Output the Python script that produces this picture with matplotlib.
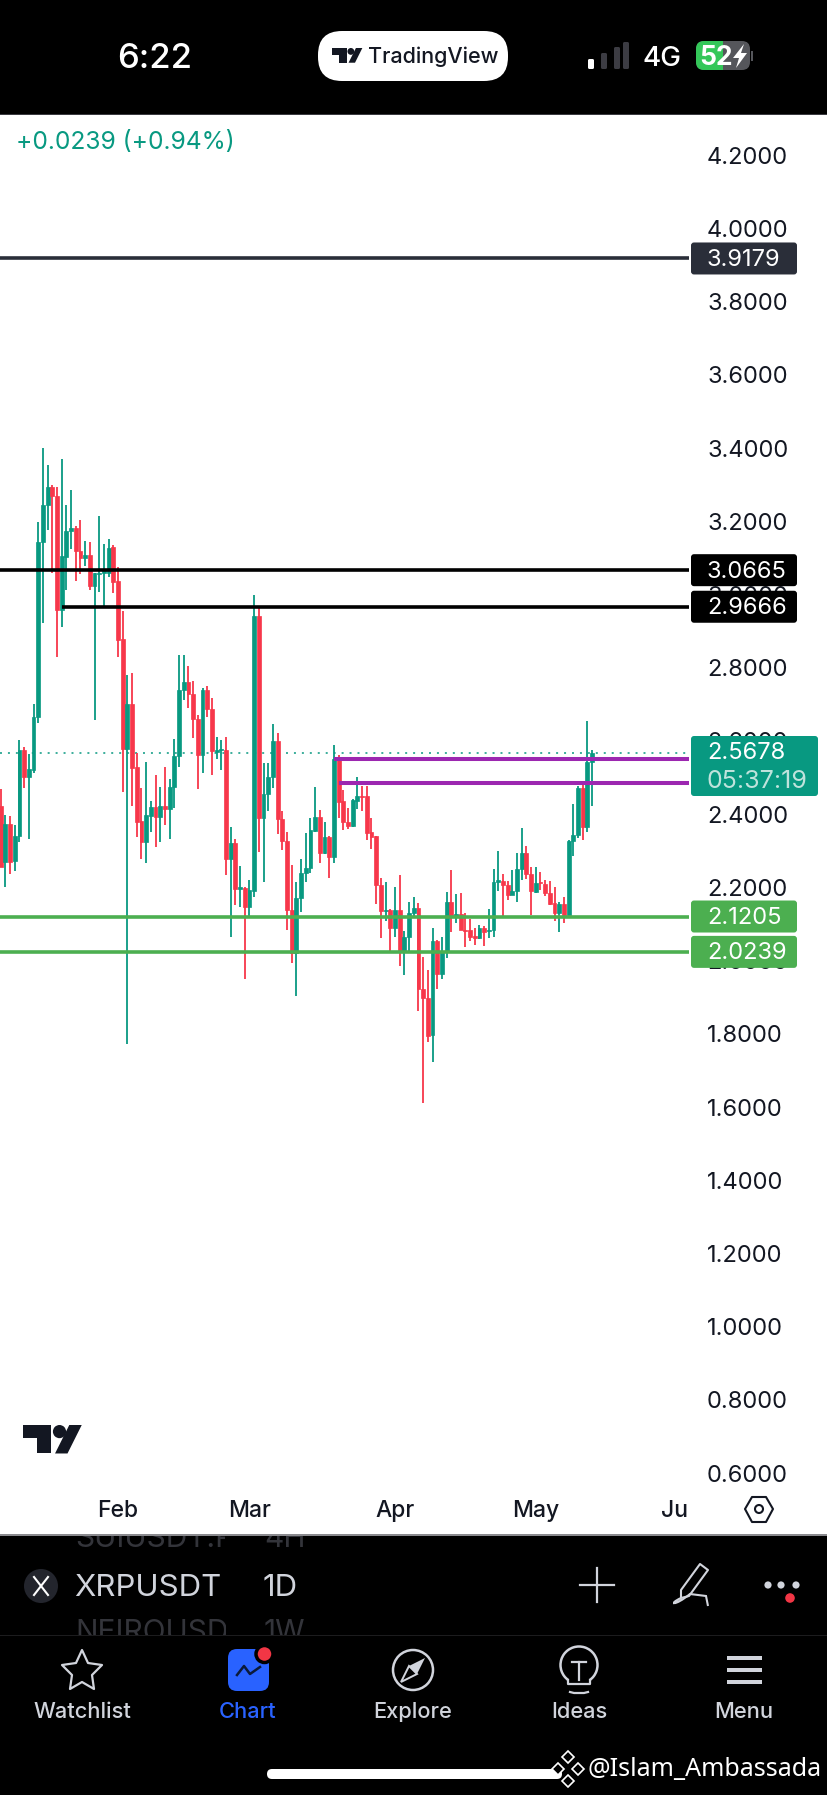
import matplotlib
matplotlib.use("Agg")
import matplotlib.pyplot as plt
from matplotlib.patches import Rectangle, FancyBboxPatch, Circle, Polygon, PathPatch, Arc
from matplotlib.path import Path

W, H = 828, 1795
plt.rcParams["font.family"] = ["Inter", "Noto Sans", "DejaVu Sans"]

# daily XRPUSDT candles
opens = [2.421, 2.270, 2.372, 2.272, 2.340, 2.575, 2.502, 2.521, 2.666, 3.143,
         3.245, 3.293, 3.269, 2.958, 3.103, 3.174, 3.181, 3.119, 3.101, 3.108,
         3.022, 3.055, 3.058, 3.058, 3.129, 3.037, 2.878, 2.578, 2.700, 2.528,
         2.381, 2.325, 2.396, 2.420, 2.393, 2.423, 2.413, 2.473, 2.560, 2.739,
         2.762, 2.727, 2.660, 2.563, 2.739, 2.687, 2.571, 2.574, 2.575, 2.277,
         2.320, 2.197, 2.199, 2.146, 2.191, 2.940, 2.389, 2.454, 2.501, 2.600,
         2.386, 2.327, 2.138, 2.020, 2.170, 2.238, 2.252, 2.355, 2.391, 2.293,
         2.339, 2.284, 2.551, 2.436, 2.380, 2.369, 2.437, 2.451, 2.450, 2.350,
         2.340, 2.207, 2.136, 2.138, 2.088, 2.138, 2.023, 2.065, 2.129, 2.143,
         1.922, 1.899, 1.797, 2.054, 1.963, 2.024, 2.159, 2.118, 2.126, 2.085,
         2.084, 2.067, 2.062, 2.088, 2.081, 2.084, 2.215, 2.217, 2.206, 2.179,
         2.191, 2.250, 2.295, 2.237, 2.188, 2.215, 2.208, 2.186, 2.157, 2.129,
         2.155, 2.125, 2.326, 2.343, 2.471, 2.366, 2.543]
highs = [2.468, 2.399, 2.395, 2.370, 2.603, 2.583, 2.564, 2.700, 3.199, 3.399,
         3.354, 3.299, 3.293, 3.369, 3.245, 3.286, 3.187, 3.204, 3.145, 3.143,
         3.058, 3.215, 3.137, 3.153, 3.134, 3.076, 2.956, 2.780, 2.787, 2.568,
         2.471, 2.542, 2.437, 2.507, 2.473, 2.528, 2.496, 2.605, 2.835, 2.835,
         2.805, 2.765, 2.671, 2.746, 2.750, 2.716, 2.612, 2.603, 2.610, 2.366,
         2.331, 2.258, 2.202, 2.220, 2.999, 2.969, 2.539, 2.541, 2.645, 2.621,
         2.410, 2.350, 2.261, 2.214, 2.278, 2.348, 2.390, 2.475, 2.411, 2.380,
         2.341, 2.589, 2.563, 2.466, 2.418, 2.441, 2.502, 2.477, 2.478, 2.389,
         2.341, 2.227, 2.214, 2.141, 2.200, 2.234, 2.081, 2.161, 2.175, 2.158,
         2.011, 1.974, 2.089, 2.056, 2.064, 2.187, 2.248, 2.181, 2.184, 2.129,
         2.115, 2.090, 2.097, 2.095, 2.140, 2.249, 2.300, 2.236, 2.218, 2.248,
         2.295, 2.363, 2.314, 2.257, 2.255, 2.241, 2.220, 2.217, 2.200, 2.161,
         2.173, 2.329, 2.428, 2.477, 2.484, 2.655, 2.575]
lows = [2.257, 2.202, 2.236, 2.246, 2.325, 2.471, 2.331, 2.513, 2.650, 2.923,
        3.176, 3.060, 2.828, 2.910, 3.012, 3.123, 3.038, 3.055, 3.079, 3.012,
        2.657, 3.008, 2.967, 3.049, 3.003, 2.830, 2.460, 1.772, 2.422, 2.339,
        2.278, 2.266, 2.352, 2.311, 2.324, 2.371, 2.333, 2.417, 2.530, 2.712,
        2.689, 2.607, 2.469, 2.513, 2.666, 2.507, 2.551, 2.521, 2.234, 2.065,
        2.152, 2.147, 1.950, 2.123, 2.175, 2.298, 2.214, 2.409, 2.472, 2.346,
        2.302, 2.084, 1.993, 1.903, 2.134, 2.216, 2.238, 2.352, 2.268, 2.291,
        2.225, 2.266, 2.389, 2.357, 2.360, 2.366, 2.413, 2.409, 2.329, 2.304,
        2.155, 2.061, 2.109, 2.024, 2.065, 1.985, 1.961, 2.020, 2.120, 1.863,
        1.612, 1.777, 1.723, 1.922, 1.949, 2.006, 2.079, 2.104, 2.084, 2.036,
        2.054, 2.043, 2.059, 2.040, 2.061, 2.065, 2.191, 2.118, 2.166, 2.179,
        2.159, 2.220, 2.222, 2.125, 2.186, 2.193, 2.177, 2.152, 2.109, 2.079,
        2.104, 2.120, 2.286, 2.336, 2.329, 2.352, 2.422]
closes = [2.257, 2.372, 2.270, 2.340, 2.575, 2.502, 2.523, 2.666, 3.143, 3.245,
          3.293, 3.269, 2.958, 3.105, 3.174, 3.181, 3.119, 3.099, 3.108, 3.022,
          3.058, 3.060, 3.067, 3.128, 3.035, 2.876, 2.578, 2.700, 2.525, 2.380,
          2.325, 2.398, 2.420, 2.393, 2.423, 2.413, 2.473, 2.559, 2.739, 2.762,
          2.727, 2.659, 2.563, 2.739, 2.687, 2.573, 2.575, 2.577, 2.278, 2.320,
          2.197, 2.200, 2.146, 2.193, 2.940, 2.389, 2.454, 2.501, 2.600, 2.386,
          2.327, 2.138, 2.020, 2.170, 2.238, 2.252, 2.357, 2.391, 2.293, 2.339,
          2.284, 2.551, 2.434, 2.380, 2.369, 2.439, 2.450, 2.448, 2.348, 2.339,
          2.207, 2.136, 2.138, 2.088, 2.138, 2.023, 2.065, 2.129, 2.143, 1.922,
          1.899, 1.795, 2.054, 1.963, 2.024, 2.159, 2.118, 2.126, 2.084, 2.082,
          2.065, 2.062, 2.088, 2.079, 2.084, 2.214, 2.219, 2.206, 2.179, 2.191,
          2.250, 2.295, 2.237, 2.191, 2.213, 2.212, 2.186, 2.155, 2.129, 2.155,
          2.125, 2.328, 2.343, 2.471, 2.366, 2.543, 2.568]

price_ticks = [0.6, 0.8, 1.0, 1.2, 1.4, 1.6, 1.8, 2.0, 2.2, 2.4, 2.6, 2.8, 3.0, 3.2, 3.4, 3.6, 3.8, 4.0, 4.2]
month_pos = [25, 53, 84, 114, 145]
month_labels = ["Feb", "Mar", "Apr", "May", "Jun"]

last_price = 2.5678
black_levels = [3.0665, 2.9666]
navy_level = 3.9179
purple_levels = [2.5515, 2.485]
green_levels = [2.1205, 2.0239]

GREEN = "#089981"
RED = "#F7374A"
LINE_GREEN = "#4CAF50"
PURPLE = "#9C27B0"

fig = plt.figure(figsize=(W / 100, H / 100), dpi=100, facecolor="white")
top_px, bottom_px, right_px = 115, 1485, 689
ax = fig.add_axes([0, 1 - bottom_px / H, right_px / W, (bottom_px - top_px) / H])
ax.set_xlim(-0.143, 146.64)
ax.set_ylim(0.5677, 4.3098)
for s in ax.spines.values():
    s.set_visible(False)
ax.yaxis.tick_right()
ax.set_yticks(price_ticks)
ax.set_yticklabels(["%.4f" % t for t in price_ticks])
ax.set_xticks(month_pos)
ax.set_xticklabels(month_labels, fontweight="medium")
ax.tick_params(axis="y", length=0, pad=13, labelsize=17, labelcolor="#131722")
ax.tick_params(axis="x", length=0, pad=11, labelsize=16.5, labelcolor="#131722")

xs = list(range(len(closes)))
colors = [GREEN if c >= o else RED for o, c in zip(opens, closes)]
ax.vlines(xs, lows, highs, colors=colors, linewidth=1.3, zorder=2)
ax.bar(xs, [c - o for o, c in zip(opens, closes)], bottom=opens, width=0.82,
       color=colors, edgecolor=colors, linewidth=0.5, zorder=3)

# drawn levels
ax.axhline(navy_level, color="#2A2E39", lw=2.6, zorder=4)
ax.axhline(black_levels[0], color="black", lw=2.6, zorder=4)
ax.hlines(black_levels[1], 13, 146.64, color="black", lw=2.6, zorder=4)
ax.hlines(purple_levels[0], 71, 146.64, color=PURPLE, lw=2.9, zorder=4)
ax.hlines(purple_levels[1], 72, 146.64, color=PURPLE, lw=2.9, zorder=4)
for lv in green_levels:
    ax.axhline(lv, color=LINE_GREEN, lw=2.6, zorder=4)
ax.axhline(last_price, color=GREEN, lw=1.1, ls=(0, (1.3, 3.9)), zorder=1)

# overlay in screen pixels for the app chrome
ui = fig.add_axes([0, 0, 1, 1], zorder=5)
ui.set_xlim(0, W)
ui.set_ylim(H, 0)
ui.axis("off")
ui.patch.set_alpha(0)


def price_y(p):
    return H - ax.transData.transform((0, p))[1]


def box(x0, x1, y0, y1, color, r=3):
    ui.add_patch(FancyBboxPatch((x0 + r, y0 + r), x1 - x0 - 2 * r, y1 - y0 - 2 * r,
                                boxstyle="round,pad=%d,rounding_size=%d" % (r, r),
                                fc=color, ec="none"))


def txt(x, y, s, size, color="white", ha="center", weight="normal", **kw):
    return ui.text(x, y, s, fontsize=size, color=color, ha=ha, va="center", fontweight=weight, **kw)


def ghost(x, y, s, x0, x1, y0, y1):
    # watchlist rows half hidden behind the neighbouring bars
    t = txt(x, y, s, 21.5, color="#33343A", ha="left")
    t.set_clip_on(True)
    t.set_clip_path(Rectangle((x0, y0), x1 - x0, y1 - y0, transform=ui.transData))


# price labels
for lv, col in [(navy_level, "#2A2E39"), (black_levels[0], "black"), (black_levels[1], "black"),
                (green_levels[0], LINE_GREEN), (green_levels[1], LINE_GREEN)]:
    yc = price_y(lv)
    box(691, 797, yc - 16, yc + 16, col)
    txt(707, yc + 1.5, "%.4f" % lv, 17, ha="left")
box(691, 818, 736, 796, GREEN)
txt(707, 753, "%.4f" % last_price, 17, ha="left")
txt(707, 781, "05:37:19", 18, color="#BFE3DC", ha="left")

txt(16, 142, "+0.0239 (+0.94%)", 17.7, color=GREEN, ha="left")

# top bar
ui.add_patch(Rectangle((0, 0), W, 114, fc="black", ec="none"))
ui.add_patch(Rectangle((0, 113.5), W, 1.5, fc="#3a3a40", ec="none"))
txt(155, 59, "6:22", 25, weight="medium")
box(318, 508, 31, 81, "white", r=24)


def tv_logo(x, y, s, col):
    ui.add_patch(Polygon([(x, y), (x + 16 * s, y), (x + 16 * s, y + 16 * s), (x + 8 * s, y + 16 * s),
                          (x + 8 * s, y + 7.5 * s), (x, y + 7.5 * s)], fc=col, ec="none"))
    ui.add_patch(Circle((x + 20.5 * s, y + 3.7 * s), 3.7 * s, fc=col, ec="none"))
    ui.add_patch(Polygon([(x + 26 * s, y), (x + 33 * s, y), (x + 25 * s, y + 16 * s), (x + 18 * s, y + 16 * s)],
                         fc=col, ec="none"))


tv_logo(332, 48, 0.92, "#131722")
txt(433, 57, "TradingView", 15.5, color="#131722", weight="medium")

for i, (bx, top) in enumerate([(588, 59), (601, 53), (614, 47), (623, 42)]):
    ui.add_patch(FancyBboxPatch((bx + 1, top + 1), 4, 69 - top - 2, boxstyle="round,pad=1,rounding_size=1.5",
                                fc="white" if i == 0 else "#3C3C43", ec="none"))
txt(662, 59, "4G", 20, weight="medium")
box(696, 750, 41, 70, "#55565B", r=8)
box(696, 723, 41, 70, "#34C759", r=8)
ui.add_patch(Rectangle((712, 41), 11, 29, fc="#34C759", ec="none"))
txt(716, 58, "52", 19, weight="bold")
ui.add_patch(Polygon([(744, 44), (733, 58), (739, 58), (736, 68), (747, 53), (741, 53)], fc="white", ec="none"))
ui.add_patch(Rectangle((751, 51), 2.5, 10, fc="#55565B", ec="none"))

# watermark logo and settings hexagon on the chart
tv_logo(23, 1425, 1.78, "#131722")
ui.add_patch(Rectangle((689, 1490), 18, 40, fc="white", ec="none"))
ui.add_patch(Polygon([(745, 1509), (752, 1497), (766, 1497), (773, 1509), (766, 1522), (752, 1522)],
                     fc="none", ec="#131722", lw=1.5, joinstyle="round"))
ui.add_patch(Circle((759, 1509), 4, fc="none", ec="#131722", lw=1.5))

# bottom bar
ui.add_patch(Rectangle((0, 1535), W, H - 1535, fc="black", ec="none"))
ui.add_patch(Rectangle((0, 1534), W, 1.5, fc="#8a8a8e", ec="none"))
ghost(75, 1539, "SUIUSDT.P", 60, 225, 1536, 1566)
ghost(264, 1539, "4H", 260, 330, 1536, 1566)
ghost(75, 1633, "NEIROUSDT", 60, 226, 1606, 1635)
ghost(264, 1633, "1W", 260, 330, 1606, 1635)
ui.add_patch(Rectangle((0, 1635), W, 1, fc="#1c1c1e", ec="none"))

ui.add_patch(Circle((41, 1586), 17, fc="#23252d", ec="none"))
ui.plot([34, 48], [1577, 1595], color="white", lw=1.5)
ui.plot([48, 34], [1577, 1595], color="white", lw=1.5)
txt(74, 1588, "XRPUSDT", 22.5, color="#D1D4DC", ha="left")
txt(263, 1588, "1D", 22.5, color="#D1D4DC", ha="left")

ui.plot([580, 614], [1585, 1585], color="#D1D4DC", lw=1.6)
ui.plot([597, 597], [1568, 1602], color="#D1D4DC", lw=1.6)
# pen
ui.add_patch(Polygon([(700, 1564), (708, 1570), (689, 1596), (681, 1598), (681, 1590)],
                     fc="none", ec="#D1D4DC", lw=1.5, joinstyle="round"))
ui.add_patch(PathPatch(Path([(681, 1598), (668, 1604), (674, 1607), (690, 1594), (706, 1596), (708, 1606)],
                            [Path.MOVETO, Path.CURVE4, Path.CURVE4, Path.CURVE4, Path.LINETO, Path.LINETO]),
                       fc="none", ec="#D1D4DC", lw=1.5))
for dx in [768, 781, 796]:
    ui.add_patch(Circle((dx, 1585), 3.6, fc="#D1D4DC", ec="none"))
ui.add_patch(Circle((790, 1598), 5.5, fc="#F23645", ec="black", lw=1))

# nav items
nav_x = [82, 248, 413, 579, 744]
nav_labels = ["Watchlist", "Chart", "Explore", "Ideas", "Menu"]
ICON = "#D1D4DC"
for nx, lab in zip(nav_x, nav_labels):
    txt(nx, 1712, lab, 15.7, color="#2962FF" if lab == "Chart" else ICON, weight="medium")

ui.add_patch(Polygon([(82, 1650), (88, 1663), (102, 1665), (92, 1675), (94, 1689), (82, 1682),
                      (70, 1689), (72, 1675), (62, 1665), (76, 1663)], fc="none", ec=ICON, lw=1.6,
                     joinstyle="round"))
box(228, 269, 1649, 1691, "#2962FF", r=9)
ui.plot([237, 244, 250, 260], [1675, 1666, 1674, 1667], color="#0b1a3a", lw=1.8)
ui.add_patch(Circle((264.5, 1654), 8.5, fc="#F23645", ec="black", lw=2.5))
ui.add_patch(Circle((413, 1670), 20, fc="none", ec=ICON, lw=1.8))
ui.add_patch(Polygon([(425, 1658), (417, 1674), (409, 1666)], fc=ICON, ec="none"))
ui.add_patch(Polygon([(401, 1682), (417, 1674), (409, 1666)], fc="none", ec=ICON, lw=1.4))
ui.add_patch(Arc((579, 1665), 37, 37, theta1=125, theta2=55, ec=ICON, lw=1.8))
ui.plot([568, 568, 590, 590], [1680, 1684, 1684, 1680], color=ICON, lw=1.6)
ui.plot([570, 574, 584, 588], [1692, 1693, 1693, 1692], color=ICON, lw=1.6)
ui.plot([572, 586], [1662, 1662], color=ICON, lw=1.6)
ui.plot([579, 579], [1662, 1680], color=ICON, lw=1.6)
for by in [1658, 1670, 1682]:
    ui.add_patch(Rectangle((727, by - 2), 35, 4, fc=ICON, ec="none"))

box(267, 562, 1769, 1779, "white", r=5)
# watermark
for dx, dy in [(568, 1757), (558, 1769), (578, 1769), (568, 1781)]:
    ui.add_patch(Polygon([(dx, dy - 6), (dx + 6, dy), (dx, dy + 6), (dx - 6, dy)], fc="black", ec="white", lw=1.2))
txt(588, 1769, "@Islam_Ambassada", 18, ha="left", family=["Noto Sans", "DejaVu Sans"])

fig.savefig("out.png", dpi=100)
